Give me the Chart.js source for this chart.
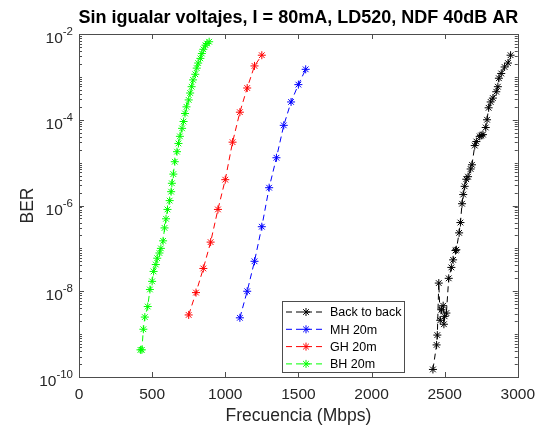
<!DOCTYPE html>
<html>
<head>
<meta charset="utf-8">
<script src="https://cdn.jsdelivr.net/npm/chart.js@4"></script>
<style>
  body { margin: 0; background: #fff; }
  #wrap { width: 543px; height: 429px; }
</style>
</head>
<body>
<div id="wrap"><canvas id="chart"></canvas></div>
<script>
// datos (frecuencia en Mbps, BER)
const chartTitle = 'Sin igualar voltajes, I = 80mA, LD520, NDF 40dB AR';
const seriesNames = ['Back to back', 'MH 20m', 'GH 20m', 'BH 20m'];
const seriesColors = ['#000000', '#0000ff', '#ff0000', '#00ff00'];

const b2bFreq = [2420, 2445, 2450, 2460, 2470, 2478, 2490, 2495, 2500, 2512, 2528, 2546, 2558, 2574, 2580,
  2599, 2608, 2619, 2627, 2637, 2648, 2660, 2678, 2687, 2706, 2717, 2740, 2750, 2762, 2781, 2790, 2801,
  2815, 2830, 2853, 2864, 2871, 2887, 2910, 2933, 2951];
const b2bBer = [1.5e-10, 5.6e-10, 9.5e-10, 1.55e-8, 2.1e-9, 3.7e-9, 4.6e-9, 1.7e-9, 2.6e-9, 3.1e-9, 2.0e-8, 3.6e-8, 5.4e-8, 8.9e-8, 9.3e-8,
  2.3e-7, 4.0e-7, 1.1e-6, 1.8e-6, 2.8e-6, 4.1e-6, 4.7e-6, 7.1e-6, 8.9e-6, 2.5e-5, 3.1e-5, 4.1e-5, 4.3e-5, 4.5e-5, 6.6e-5, 1.0e-4, 1.9e-4,
  2.6e-4, 3.2e-4, 4.5e-4, 5.9e-4, 9.3e-4, 1.2e-3, 1.7e-3, 2.1e-3, 3.2e-3];

const mhFreq = [1100, 1150, 1200, 1250, 1300, 1350, 1400, 1450, 1500, 1550];
const mhBer = [2.4e-9, 1.0e-8, 5.0e-8, 3.2e-7, 2.6e-6, 1.3e-5, 7.4e-5, 2.6e-4, 6.6e-4, 1.5e-3];

const ghFreq = [750, 800, 850, 900, 950, 1000, 1050, 1100, 1150, 1200, 1250];
const ghBer = [2.8e-9, 9.3e-9, 3.4e-8, 1.4e-7, 8.1e-7, 4.0e-6, 3.0e-5, 1.5e-4, 5.5e-4, 1.8e-3, 3.2e-3];

const bhFreq = [420, 430, 440, 450, 470, 485, 500, 510, 525, 535, 550, 560, 575, 585, 595, 605, 620, 630,
  635, 645, 655, 670, 680, 690, 705, 715, 725, 735, 750, 760, 770, 780, 795, 805, 815, 830, 840, 850,
  865, 875, 890];
const bhBer = [4.3e-10, 4.3e-10, 1.3e-9, 2.5e-9, 4.4e-9, 1.1e-8, 1.7e-8, 2.9e-8, 4.2e-8, 5.9e-8, 7.8e-8, 1.0e-7, 1.5e-7, 3.0e-7, 4.9e-7, 8.1e-7, 1.3e-6, 2.1e-6,
  3.3e-6, 5.4e-6, 1.05e-5, 1.8e-5, 2.8e-5, 4.1e-5, 6.3e-5, 9.1e-5, 1.4e-4, 2.0e-4, 2.9e-4, 4.2e-4, 5.9e-4, 8.5e-4, 1.15e-3, 1.6e-3, 2.1e-3, 2.7e-3, 3.5e-3, 4.4e-3,
  5.5e-3, 6.0e-3, 6.6e-3];

const xTicks = [0, 500, 1000, 1500, 2000, 2500, 3000];
const yTicks = [1e-10, 1e-8, 1e-6, 1e-4, 1e-2];

const FONT = '"Liberation Sans", Arial, Helvetica, sans-serif';
const AXIS_COLOR = '#262626';
const BOX_COLOR = '#4d4d4d';

function pts(xs, ys) {
  return xs.map((x, i) => ({ x: x, y: ys[i] }));
}

const allData = [pts(b2bFreq, b2bBer), pts(mhFreq, mhBer), pts(ghFreq, ghBer), pts(bhFreq, bhBer)];

const datasets = allData.map((d, i) => ({
  label: seriesNames[i],
  data: d,
  borderColor: seriesColors[i],
  backgroundColor: seriesColors[i],
  borderWidth: 1,
  borderDash: [6, 4],
  pointStyle: 'star',
  pointRadius: 4,
  pointBorderWidth: 1,
  fill: false,
  tension: 0
}));

// caja tipo matlab con ticks hacia dentro, titulo, etiquetas 10^n y leyenda
const matlabAxes = {
  id: 'matlabAxes',
  afterDraw(chart) {
    const { ctx, chartArea: a, scales: { x, y } } = chart;
    ctx.save();

    // titulo centrado sobre el area de ejes
    ctx.fillStyle = '#000';
    ctx.font = 'bold 18px ' + FONT;
    ctx.textAlign = 'center';
    ctx.textBaseline = 'middle';
    ctx.fillText(chartTitle, (a.left + a.right) / 2, 18);

    ctx.strokeStyle = BOX_COLOR;
    ctx.lineWidth = 1;
    ctx.setLineDash([]);
    ctx.strokeRect(Math.round(a.left) + 0.5, Math.round(a.top) + 0.5, Math.round(a.right - a.left), Math.round(a.bottom - a.top));
    ctx.beginPath();
    xTicks.forEach(v => {
      const px = Math.round(x.getPixelForValue(v)) + 0.5;
      ctx.moveTo(px, a.bottom); ctx.lineTo(px, a.bottom - 5);
      ctx.moveTo(px, a.top); ctx.lineTo(px, a.top + 5);
    });
    for (let k = -10; k <= -2; k++) {
      for (let m = 1; m <= 9; m++) {
        const v = m * Math.pow(10, k);
        if (v > 1e-2 * 1.0001) break;
        const py = Math.round(y.getPixelForValue(v)) + 0.5;
        const len = (m === 1 && k % 2 === 0) ? 5 : 3;
        ctx.moveTo(a.left, py); ctx.lineTo(a.left + len, py);
        ctx.moveTo(a.right, py); ctx.lineTo(a.right - len, py);
      }
    }
    ctx.stroke();

    // etiquetas del eje y: 10 con exponente
    ctx.fillStyle = AXIS_COLOR;
    ctx.textAlign = 'left';
    ctx.textBaseline = 'alphabetic';
    yTicks.forEach(v => {
      const py = y.getPixelForValue(v);
      const exp = String(Math.round(Math.log10(v)));
      ctx.font = '11.5px ' + FONT;
      const we = ctx.measureText(exp).width;
      ctx.font = '15.5px ' + FONT;
      const wb = ctx.measureText('10').width;
      const xe = a.left - 6 - we;
      ctx.fillText('10', xe - wb, py + 9);
      ctx.font = '11.5px ' + FONT;
      ctx.fillText(exp, xe, py + 1);
    });

    // leyenda
    const lx = 282, ly = 301, lw = 122, lh = 71;
    ctx.fillStyle = '#fff';
    ctx.fillRect(lx, ly, lw, lh);
    ctx.strokeStyle = BOX_COLOR;
    ctx.strokeRect(lx + 0.5, ly + 0.5, lw, lh);
    ctx.font = '12.5px ' + FONT;
    ctx.textBaseline = 'middle';
    chart.data.datasets.forEach((ds, i) => {
      const cy = ly + 11 + i * 17.3;
      ctx.strokeStyle = ds.borderColor;
      ctx.setLineDash(ds.borderDash);
      ctx.beginPath();
      ctx.moveTo(lx + 4, cy); ctx.lineTo(lx + 44, cy);
      ctx.stroke();
      ctx.setLineDash([]);
      Chart.helpers.drawPoint(ctx, { pointStyle: 'star', radius: 4, borderWidth: 1 }, lx + 24, cy);
      ctx.fillStyle = '#000';
      ctx.fillText(ds.label, lx + 48, cy + 1);
    });
    ctx.restore();
  }
};

new Chart(document.getElementById('chart'), {
  type: 'line',
  data: { datasets: datasets },
  options: {
    responsive: true,
    maintainAspectRatio: false,
    animation: false,
    layout: { padding: { left: 0, right: 23, top: 34, bottom: 0 } },
    plugins: {
      legend: { display: false },
      tooltip: { enabled: false },
      title: { display: false }
    },
    scales: {
      x: {
        type: 'linear',
        min: 0,
        max: 3000,
        afterBuildTicks: s => { s.ticks = xTicks.map(v => ({ value: v })); },
        afterFit: s => { s.height = 52; },
        grid: { display: false, drawTicks: false },
        border: { display: false },
        ticks: {
          color: AXIS_COLOR,
          font: { family: FONT, size: 15.5 },
          padding: 8,
          maxRotation: 0,
          callback: v => String(v)
        },
        title: {
          display: true,
          text: 'Frecuencia (Mbps)',
          color: AXIS_COLOR,
          font: { family: FONT, size: 17.5 },
          padding: { top: 0, bottom: 2 }
        }
      },
      y: {
        type: 'logarithmic',
        min: 1e-10,
        max: 1e-2,
        afterBuildTicks: s => { s.ticks = yTicks.map(v => ({ value: v })); },
        afterFit: s => { s.width = 79; },
        grid: { display: false, drawTicks: false },
        border: { display: false },
        ticks: { display: false },
        title: {
          display: true,
          text: 'BER',
          color: AXIS_COLOR,
          font: { family: FONT, size: 17.5 },
          padding: { top: 18, bottom: 0 }
        }
      }
    }
  },
  plugins: [matlabAxes]
});
</script>
</body>
</html>
